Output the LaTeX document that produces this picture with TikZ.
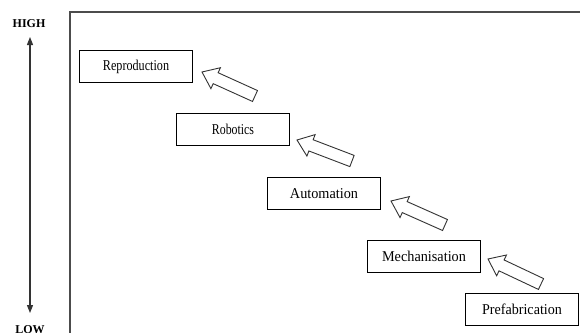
\documentclass[tikz,border=0pt]{standalone}
\usepackage{fontspec}
\usepackage{graphicx}
\setmainfont{Liberation Serif}
\usetikzlibrary{calc,arrows.meta}

% Hollow block arrow from tip #1 back to tail #2
\newcommand\hollowarrow[2]{%
  \draw[hollow]
    (#1)
    -- ($(#1)!15pt!(#2)!11.5pt!90:(#2)$)
    -- ($(#1)!15pt!(#2)!6pt!90:(#2)$)
    -- ($(#2)!6pt!-90:(#1)$)
    -- ($(#2)!6pt!90:(#1)$)
    -- ($(#1)!15pt!(#2)!6pt!-90:(#2)$)
    -- ($(#1)!15pt!(#2)!11.5pt!-90:(#2)$)
    -- cycle;}

% condensed label text
\newcommand\narrow[2]{\scalebox{#1}[1]{#2}}

\tikzset{
  stage/.style={draw=black, line width=0.9pt, minimum width=113pt,
    minimum height=32pt, inner sep=0pt, font=\fontsize{15}{17}\selectfont},
  hollow/.style={draw=black!80, line width=0.9pt, fill=white, line join=miter},
  frame/.style={draw=black!70, line width=1.3pt},
  axis/.style={draw=black!80, line width=1.1pt,
    {Triangle[width=6pt,length=8pt]}-{Triangle[width=6pt,length=8pt]}},
  level/.style={font=\bfseries\fontsize{12}{14}\selectfont, inner sep=0pt}
}

\begin{document}
\begin{tikzpicture}[x=1pt,y=-1pt]
\useasboundingbox (0,0) rectangle (580,332);

% frame
\draw[frame] (580,12) -- (70,12) -- (70,334);

% scale on the left
\node[level] (high) at (29,24) {HIGH};
\node[level] (low) at (30,330) {LOW};
\coordinate (axtop) at (30,37);
\coordinate (axbot) at (30,313);
\draw[axis] (axbot) -- (axtop);

% stages
\node[stage] (repro) at (136,66.5) {\narrow{0.81}{Reproduction}};
\node[stage] (robot) at (233,129) {\narrow{0.79}{Robotics}};
\node[stage] (auto)  at (324,193.5) {\narrow{0.95}{Automation}};
\node[stage] (mech)  at (424,256.5) {\narrow{0.95}{Mechanisation}};
\node[stage] (prefab) at (522,309) {\narrow{0.94}{Prefabrication}};

% arrow tips and tails
\coordinate (t1) at (202,72);  \coordinate (s1) at (255,96);
\coordinate (t2) at (297,140); \coordinate (s2) at (352,161);
\coordinate (t3) at (391,201); \coordinate (s3) at (445,225);
\coordinate (t4) at (488,259); \coordinate (s4) at (541,284);

\hollowarrow{t1}{s1}
\hollowarrow{t2}{s2}
\hollowarrow{t3}{s3}
\hollowarrow{t4}{s4}
\end{tikzpicture}
\end{document}
